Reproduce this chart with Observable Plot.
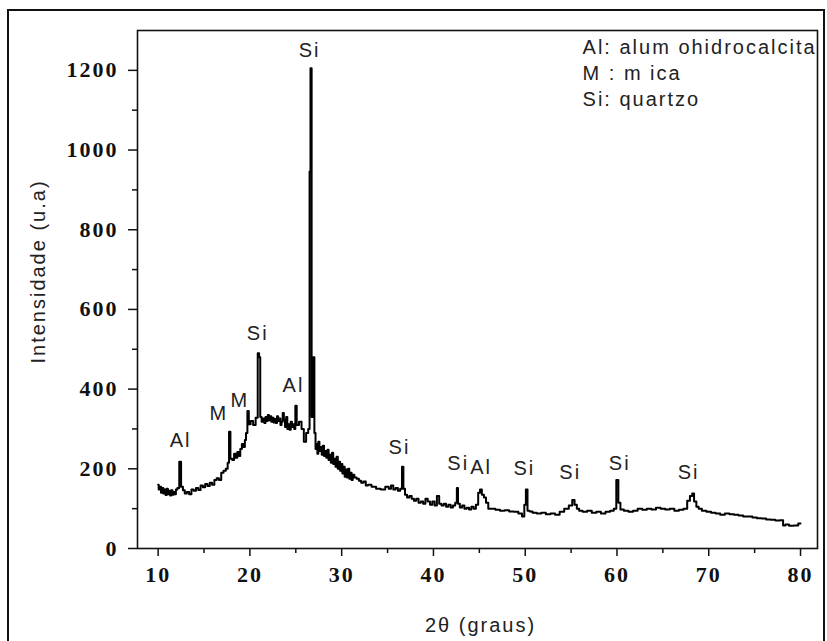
<!DOCTYPE html>
<html><head><meta charset="utf-8">
<script src="https://cdn.jsdelivr.net/npm/d3@7"></script>
<script src="https://cdn.jsdelivr.net/npm/@observablehq/plot@0.6"></script>
<style>
body{margin:0;background:#fff;}
#wrap{position:relative;width:827px;height:641px;overflow:hidden;background:#fff}
#border{position:absolute;left:7px;top:9px;width:818px;height:700px;border:2px solid #111;box-sizing:border-box;}
#chart{position:absolute;left:0;top:0}
g[aria-label="text"] text{letter-spacing:2px}
g[aria-label="y-axis tick label"] text, g[aria-label="x-axis tick label"] text{letter-spacing:2px}
</style></head><body>
<div id="wrap"><div id="border"></div><div id="chart"></div></div>
<script>
const twoTheta = [
10.00,10.12,10.25,10.37,10.50,10.62,10.75,10.87,11.00,11.12,11.25,11.37,11.50,11.62,11.75,11.87,12.00,12.20,12.40,12.60,
12.80,13.00,13.25,13.50,13.75,14.00,14.25,14.50,14.75,15.00,15.25,15.50,15.75,16.00,16.25,16.50,16.75,17.00,17.25,17.50,
17.65,17.80,17.95,18.20,18.35,18.50,18.75,18.90,19.00,19.25,19.40,19.50,19.65,19.80,19.95,20.20,20.50,20.75,20.95,21.05,
21.20,21.35,21.50,21.65,21.75,21.90,22.00,22.15,22.25,22.40,22.50,22.65,22.75,22.90,23.00,23.15,23.25,23.40,23.50,23.65,
23.75,23.90,24.00,24.15,24.25,24.40,24.50,24.65,24.75,24.90,25.00,25.20,25.50,25.75,26.00,26.25,26.45,26.55,26.65,26.80,
26.95,27.10,27.20,27.30,27.40,27.50,27.65,27.75,27.90,28.00,28.15,28.25,28.40,28.50,28.65,28.75,28.90,29.00,29.15,29.25,
29.40,29.50,29.65,29.75,29.90,30.00,30.15,30.25,30.40,30.50,30.65,30.75,30.90,31.00,31.15,31.25,31.50,31.75,32.00,32.25,
32.50,32.75,33.00,33.50,34.00,34.50,35.00,35.25,35.50,35.75,36.00,36.25,36.50,36.65,36.80,37.00,37.25,37.50,37.75,38.00,
38.25,38.50,38.75,39.00,39.25,39.50,39.75,40.00,40.25,40.50,40.75,41.00,41.25,41.50,41.75,42.00,42.25,42.50,42.60,42.75,
43.00,43.25,43.50,43.75,44.00,44.25,44.50,44.75,45.00,45.15,45.40,45.60,45.85,46.10,46.50,47.00,47.50,48.00,48.50,49.00,
49.50,49.80,50.00,50.15,50.35,50.60,51.00,51.50,52.00,52.50,53.00,53.50,54.00,54.50,55.00,55.25,55.50,55.75,56.00,56.50,
57.00,57.50,58.00,58.50,59.00,59.50,59.80,60.05,60.25,60.50,61.00,61.50,62.00,62.50,63.00,63.50,64.00,64.50,65.00,65.50,
66.00,66.50,67.00,67.50,67.80,68.10,68.30,68.50,68.80,69.00,69.50,70.00,70.50,71.00,71.50,72.00,72.50,73.00,73.50,74.00,
74.50,75.00,75.50,76.00,76.50,77.00,77.50,78.00,78.20,78.50,79.00,79.50,80.00
];
const intensity = [
160,148,155,140,152,138,148,134,150,136,145,133,146,135,142,136,148,152,218,155,
146,138,142,136,148,145,152,147,158,154,162,157,165,160,172,176,172,190,195,200,
215,293,225,222,238,228,242,232,250,262,255,272,290,345,312,320,310,328,490,480,
330,318,326,315,330,320,335,322,332,318,328,316,325,315,332,320,326,310,318,340,
322,305,330,300,312,298,318,305,312,300,358,310,318,300,268,290,300,946,1205,330,
480,290,250,262,238,268,245,255,235,258,232,245,228,248,222,235,215,240,212,225,
205,230,200,218,195,212,188,205,180,198,178,200,175,190,172,185,178,175,170,165,
168,158,160,155,150,148,155,150,158,148,152,145,150,205,150,135,128,132,125,120,
125,115,118,112,125,118,110,118,108,132,112,108,112,105,110,103,108,115,152,112,
103,108,100,102,98,105,100,110,140,148,135,128,115,100,100,97,95,96,93,92,
88,80,110,148,95,93,90,88,90,86,88,85,92,100,108,122,110,100,95,92,
95,90,92,88,92,95,100,172,115,98,95,92,95,100,97,100,98,102,100,98,
100,95,97,100,120,132,138,118,105,100,95,92,90,88,85,88,86,85,83,80,
80,78,76,75,73,72,70,71,58,60,57,58,63
];
const xTicks = [10,20,30,40,50,60,70,80];
const xMinorTicks = [15,25,35,45,55,65,75];
const yTicks = [0,200,400,600,800,1000,1200];
const yMinorTicks = [100,300,500,700,900,1100];
const peakLabels = ["Al","M","M","Si","Al","Si","Si","Si","Al","Si","Si","Si","Si"];
const peakX = [12.45,16.6,18.9,20.85,24.75,26.5,36.3,42.7,45.2,49.9,54.9,60.3,67.8];
const peakY = [271,339,371,540,409,1250,253,213,203,201,191,213,191];
const legendLines = ["Al: alum ohidrocalcita","M : m ica","Si: quartzo"];
const legendY = [1257,1192,1127];
const legendX = 56.25;
const xTitle = "2θ (graus)";
const yTitle = "Intensidade (u.a)";

const data = twoTheta.map((t, i) => ({t, v: intensity[i]}));
const peaks = peakLabels.map((s, i) => ({s, x: peakX[i], y: peakY[i]}));
const legend = legendLines.map((s, i) => ({s, x: legendX, y: legendY[i]}));

const tickFont = {fontFamily: "Liberation Serif", fontWeight: "bold", fontSize: 22};
const textFont = {fontFamily: "Liberation Sans", fontSize: 20, fill: "#222"};

const chart = Plot.plot({
  width: 827, height: 641,
  marginLeft: 137, marginRight: 10, marginTop: 30, marginBottom: 93,
  x: {domain: [7.75, 81.85]},
  y: {domain: [0, 1300]},
  marks: [
    Plot.axisX({ticks: xTicks, tickSize: 8, tickPadding: 10, tickFormat: d => String(d), label: null, stroke: "#111", strokeWidth: 1.5, ...tickFont, fill: "#111"}),
    Plot.axisX({ticks: xMinorTicks, tickSize: 5, tickFormat: () => "", label: null, stroke: "#111", strokeWidth: 1.5}),
    Plot.axisY({ticks: yTicks, tickSize: 9, tickPadding: 10, tickFormat: d => String(d), label: null, stroke: "#111", strokeWidth: 1.5, ...tickFont, fill: "#111"}),
    Plot.axisY({ticks: yMinorTicks, tickSize: 5, tickFormat: () => "", label: null, stroke: "#111", strokeWidth: 1.5}),
    Plot.frame({stroke: "#111", strokeWidth: 1.6}),
    Plot.line(data, {x: "t", y: "v", stroke: "#000", strokeWidth: 2, curve: "step"}),
    Plot.text(peaks, {x: "x", y: "y", text: "s", ...textFont}),
    Plot.text(legend, {x: "x", y: "y", text: "s", textAnchor: "start", ...textFont}),
    Plot.text([xTitle], {frameAnchor: "bottom", textAnchor: "middle", lineAnchor: "middle", dy: 77, dx: 3, ...textFont}),
    Plot.text([yTitle], {frameAnchor: "left", textAnchor: "middle", lineAnchor: "middle", dx: -99, dy: -18, rotate: -90, ...textFont})
  ]
});
document.getElementById("chart").appendChild(chart);
</script>
</body></html>
